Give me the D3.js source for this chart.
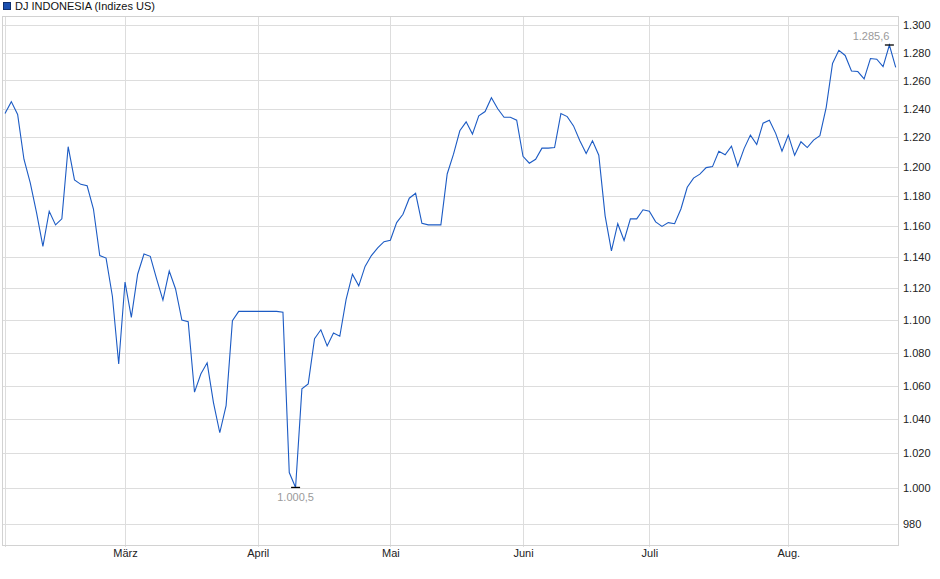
<!DOCTYPE html>
<html>
<head>
<meta charset="utf-8">
<script src="https://cdn.jsdelivr.net/npm/d3@7"></script>
<style>
  body { margin: 0; background: #fff; }
  svg text { font-family: "Liberation Sans", Arial, sans-serif; }
</style>
</head>
<body>
<svg id="chart" width="940" height="579"></svg>
<script>
// DJ Indonesia (Indizes US), one value per trading day, Feb - Aug
const seriesName = "DJ INDONESIA (Indizes US)";
const closeValues = [
  1236.6, 1245, 1236, 1205, 1189, 1169, 1147, 1170, 1161, 1165,
  1213.6, 1191, 1188, 1187, 1171.5, 1141, 1139.4, 1115, 1073, 1124,
  1101.7, 1129, 1142, 1140.5, 1126, 1112.6, 1131, 1119.6, 1100, 1099,
  1056, 1066.9, 1073.7, 1049.8, 1032, 1048, 1099.6, 1105.5, 1105.5, 1105.5,
  1105.5, 1105.5, 1105.5, 1105.5, 1105, 1009, 1000.5, 1058, 1061, 1088.5,
  1094, 1084, 1092, 1090, 1113, 1129, 1121.6, 1134, 1141, 1146,
  1150, 1151, 1162.5, 1168, 1178.7, 1182, 1162, 1161, 1161, 1161,
  1195, 1208.5, 1224.6, 1230.8, 1222.3, 1235, 1238, 1247.8, 1240, 1234,
  1234, 1232, 1207, 1202.3, 1205, 1212.6, 1212.6, 1213, 1236.6, 1234.5,
  1228, 1217.7, 1209, 1217.7, 1207.8, 1167, 1144, 1161.8, 1150.8, 1165,
  1165, 1171, 1170, 1163, 1160, 1162.5, 1161.8, 1171.5, 1186, 1192.2,
  1194.9, 1199.3, 1200, 1210.5, 1208.1, 1214, 1200.2, 1212.3, 1221.6, 1215.1,
  1229.9, 1232, 1222.8, 1210.5, 1221.6, 1207.7, 1217, 1213, 1218.1, 1221.2,
  1241, 1272.2, 1281.7, 1278, 1266.8, 1266.4, 1261.2, 1275.8, 1275.3, 1269.9,
  1285.6, 1269.4
];
// index of first trading day of each month
const monthIndex = [0, 19, 40, 61, 82, 102, 124];
const monthLabels = ["", "März", "April", "Mai", "Juni", "Juli", "Aug."];
const yTicks = [980, 1000, 1020, 1040, 1060, 1080, 1100, 1120, 1140, 1160,
  1180, 1200, 1220, 1240, 1260, 1280, 1300];

const de = d3.formatLocale({decimal: ",", thousands: ".", grouping: [3], currency: ["", " €"]});
const fmtTick = de.format(",d");
const fmtVal = de.format(",.1f");

const svg = d3.select("#chart");
const plotL = 2, plotT = 16, plotR = 898, plotB = 545;
const lineColor = "#1c5bc4";

let x = d3.scaleLinear().domain([0, closeValues.length - 1]).range([5, 895.7]);
let y = d3.scaleLog().domain([968.4, 1306.9]).range([plotB, plotT]);

// legend
svg.append("rect").attr("x", 3.5).attr("y", 2.5).attr("width", 7).attr("height", 7)
  .attr("fill", "#1a4fb0").attr("stroke", "#0f2f6e");
svg.append("text").attr("x", 15).attr("y", 10).attr("font-size", 11).attr("fill", "#111")
  .text(seriesName);

// grid
let grid = svg.append("g");
grid.selectAll("line.h").data(yTicks).enter().append("line")
  .attr("x1", plotL).attr("x2", plotR)
  .attr("y1", d => Math.round(y(d)) + 0.5).attr("y2", d => Math.round(y(d)) + 0.5)
  .attr("stroke", "#dddddd");
grid.selectAll("line.v").data(monthIndex).enter().append("line")
  .attr("x1", d => Math.round(x(d)) + 0.5).attr("x2", d => Math.round(x(d)) + 0.5)
  .attr("y1", plotT).attr("y2", plotB + 2)
  .attr("stroke", "#dddddd");

// frame
svg.append("rect").attr("x", plotL + 0.5).attr("y", plotT + 0.5)
  .attr("width", plotR - plotL).attr("height", plotB - plotT)
  .attr("fill", "none").attr("stroke", "#d2d2d2");

// y axis labels on the right
let yAxis = d3.axisRight(y).tickValues(yTicks).tickFormat(fmtTick).tickSize(0).tickPadding(5);
let ya = svg.append("g").attr("transform", "translate(" + plotR + ",0)").call(yAxis);
ya.select(".domain").remove();
ya.selectAll("text").attr("font-size", 11).attr("fill", "#222")
  .style("font-family", "'Liberation Sans', Arial, sans-serif");

// x axis labels
let xAxis = d3.axisBottom(x).tickValues(monthIndex.slice(1))
  .tickFormat((d, i) => monthLabels[i + 1]).tickSize(0).tickPadding(4);
let xa = svg.append("g").attr("transform", "translate(0," + plotB + ")").call(xAxis);
xa.select(".domain").remove();
xa.selectAll("text").attr("font-size", 11).attr("fill", "#222")
  .style("font-family", "'Liberation Sans', Arial, sans-serif");

// the line
let line = d3.line().x((d, i) => x(i)).y(d => y(d));
svg.append("path").datum(closeValues)
  .attr("d", line).attr("fill", "none")
  .attr("stroke", lineColor).attr("stroke-width", 1.1);

// min and max markers
let iMin = d3.minIndex(closeValues), iMax = d3.maxIndex(closeValues);
[iMin, iMax].forEach(i => {
  svg.append("line")
    .attr("x1", x(i) - 4.5).attr("x2", x(i) + 4.5)
    .attr("y1", y(closeValues[i])).attr("y2", y(closeValues[i]))
    .attr("stroke", "#000").attr("stroke-width", 1.3);
});
svg.append("text").attr("x", x(iMin)).attr("y", y(closeValues[iMin]) + 14)
  .attr("text-anchor", "middle").attr("font-size", 11).attr("fill", "#9a9a9a")
  .text(fmtVal(closeValues[iMin]));
svg.append("text").attr("x", x(iMax)).attr("y", y(closeValues[iMax]) - 5)
  .attr("text-anchor", "end").attr("font-size", 11).attr("fill", "#9a9a9a")
  .text(fmtVal(closeValues[iMax]));
</script>
</body>
</html>
